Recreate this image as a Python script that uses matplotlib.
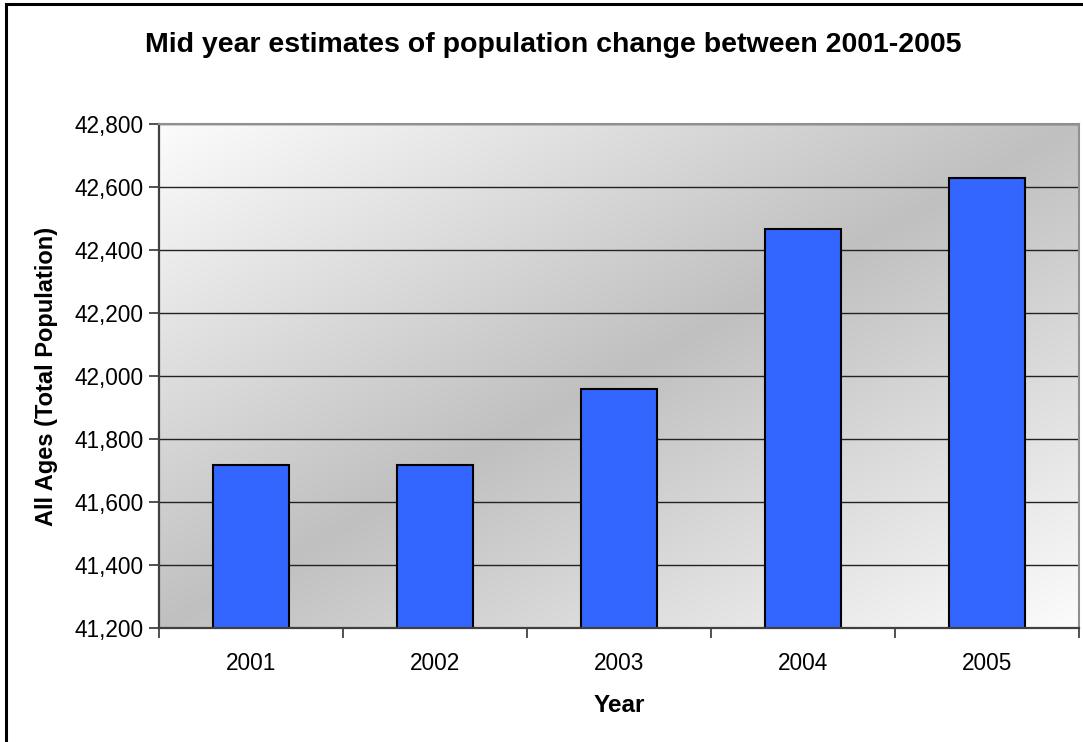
import numpy as np
import matplotlib
matplotlib.use("Agg")
import matplotlib.pyplot as plt
from matplotlib.patches import Rectangle
from matplotlib.ticker import FuncFormatter, MultipleLocator

matplotlib.rcParams['font.family'] = ['Liberation Sans', 'DejaVu Sans']

years = ["2001", "2002", "2003", "2004", "2005"]
population = [41717, 41717, 41960, 42466, 42629]

fig = plt.figure(figsize=(10.83, 7.42), dpi=100)
ax = fig.add_axes([0.1468, 0.1536, 0.8495, 0.6793])

# outer chart frame (only top and left edges show in the reference)
fig.patches.append(Rectangle((6 / 1083, -0.05), 1.2, 1 - 4 / 742 + 0.05,
                             transform=fig.transFigure, fill=False,
                             edgecolor="black", linewidth=2.2))

# plot area gradient: grey along the anti-diagonal, white at the corners
gx, gy = np.meshgrid(np.linspace(0, 1, 400), np.linspace(0, 1, 400))
t = np.abs(gx + gy - 1)
shade = 192 + t * (252 - 192)
rgb = np.dstack([shade, shade, shade]) / 255.0
ax.imshow(rgb, extent=[0, 1, 0, 1], transform=ax.transAxes,
          aspect="auto", origin="upper", zorder=0, interpolation="bilinear")

x = np.arange(len(years))
ax.bar(x, population, width=0.41, color="#3366FF", edgecolor="black",
       linewidth=1.5, zorder=2)

ax.set_xlim(-0.5, len(years) - 0.5)
ax.set_ylim(41200, 42800)
ax.yaxis.set_major_locator(MultipleLocator(200))
ax.yaxis.set_major_formatter(FuncFormatter(lambda v, p: f"{int(v):,}"))
ax.set_xticks(x)
ax.set_xticklabels(years)
ax.set_xticks(np.arange(-0.5, len(years)), minor=True)

ax.grid(axis="y", color="#222222", linewidth=1.0, zorder=1)
ax.set_axisbelow(True)

ax.tick_params(axis="y", direction="out", length=7, width=1.2,
               color="#333333", labelsize=16.3, pad=4)
ax.tick_params(axis="x", which="major", length=0, labelsize=16.3, pad=17)
ax.tick_params(axis="x", which="minor", direction="out", length=7,
               width=1.2, color="#333333")

for side in ["left", "bottom"]:
    ax.spines[side].set_color("#404040")
    ax.spines[side].set_linewidth(1.6)
for side in ["top", "right"]:
    ax.spines[side].set_color("#909090")
    ax.spines[side].set_linewidth(1.5)

ax.set_xlabel("Year", fontsize=17.5, fontweight="bold", labelpad=14)
ax.set_ylabel("All Ages (Total Population)", fontsize=17,
              fontweight="bold", labelpad=12)
fig.text(0.5 * (145 + 962) / 1083, 1 - 45 / 742,
         "Mid year estimates of population change between 2001-2005",
         ha="center", va="center", fontsize=20.5, fontweight="bold")

fig.savefig("out.png", dpi=100)
